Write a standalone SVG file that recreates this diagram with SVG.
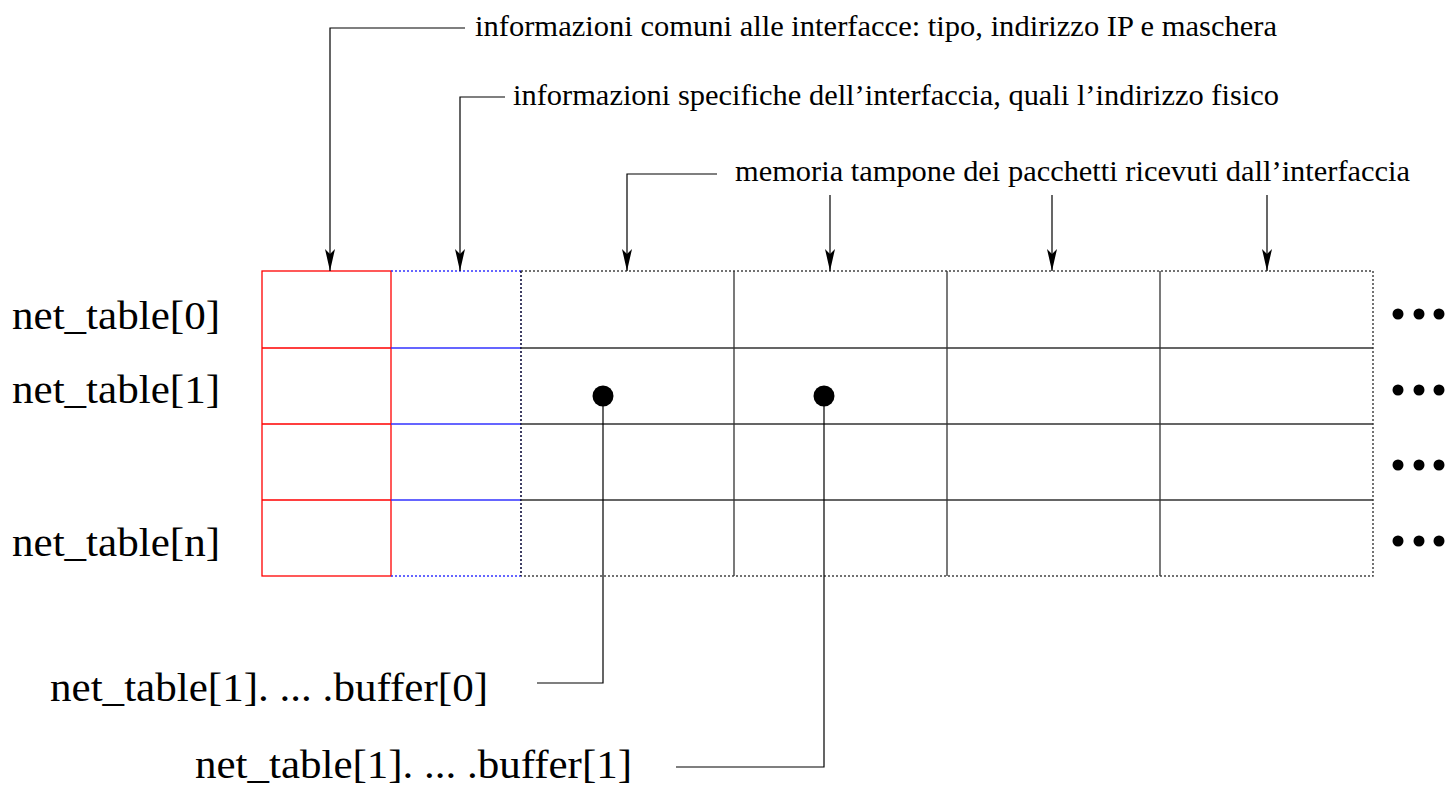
<svg xmlns="http://www.w3.org/2000/svg" width="1448" height="787" viewBox="0 0 1448 787">
<style>
text{font-family:"Liberation Serif","Times New Roman",serif;fill:#000}
.ann{font-size:29px}
.lbl{font-size:40px}
.conn{fill:none;stroke:#000;stroke-width:1.2}
.red{stroke:#ff0000;stroke-width:1.3;fill:none}
.blue{stroke:#3333ff;stroke-width:1.3;fill:none}
.bdot{stroke:#3333ff;stroke-width:1.5;stroke-dasharray:2,2;fill:none}
.ndot{stroke:#000033;stroke-width:1.5;stroke-dasharray:2,2;fill:none}
.gdot{stroke:#444;stroke-width:1.5;stroke-dasharray:2,2;fill:none}
.gline{stroke:#333;stroke-width:1.3;fill:none}
</style>
<defs>
<marker id="arr" markerUnits="userSpaceOnUse" markerWidth="24" markerHeight="14" viewBox="-22 -7 24 14" refX="0" refY="0" orient="auto">
<path d="M-22,-5 L0,0 L-22,5 L-17,0 z" fill="#000"/>
</marker>
</defs>
<g id="grid">
<g id="col-common">
<rect class="red" x="262" y="271" width="129" height="305"/>
<path class="red" d="M262,348H391M262,424H391M262,500H391"/>
</g>
<g id="col-specific">
<path class="bdot" d="M391,271H521M391,576H521"/>
<path class="blue" d="M391,348H521M391,424H521M391,500H521"/>
<path class="ndot" d="M521,271V576"/>
</g>
<g id="col-buffer">
<path class="gdot" d="M521,271H1373V576H521"/>
<path class="gline" d="M734,271V576M947,271V576M1160,271V576"/>
<path class="gline" d="M521,348H1373M521,424H1373M521,500H1373"/>
</g>
</g>
<g id="ellipsis" fill="#000">
<circle cx="1398" cy="314" r="5.5"/><circle cx="1419" cy="314" r="5.5"/><circle cx="1439" cy="314" r="5.5"/>
<circle cx="1398" cy="390" r="5.5"/><circle cx="1419" cy="390" r="5.5"/><circle cx="1439" cy="390" r="5.5"/>
<circle cx="1398" cy="465" r="5.5"/><circle cx="1419" cy="465" r="5.5"/><circle cx="1439" cy="465" r="5.5"/>
<circle cx="1398" cy="541" r="5.5"/><circle cx="1419" cy="541" r="5.5"/><circle cx="1439" cy="541" r="5.5"/>
</g>
<g id="row-labels">
<text class="lbl" x="12" y="329" textLength="208" lengthAdjust="spacingAndGlyphs">net_table[0]</text>
<text class="lbl" x="12" y="403" textLength="208" lengthAdjust="spacingAndGlyphs">net_table[1]</text>
<text class="lbl" x="12" y="556" textLength="208" lengthAdjust="spacingAndGlyphs">net_table[n]</text>
</g>
<g id="annotations">
<text class="ann" x="475" y="36" textLength="802" lengthAdjust="spacingAndGlyphs">informazioni comuni alle interfacce: tipo, indirizzo IP e maschera</text>
<text class="ann" x="513" y="105" textLength="766" lengthAdjust="spacingAndGlyphs">informazioni specifiche dell’interfaccia, quali l’indirizzo fisico</text>
<text class="ann" x="735" y="181" textLength="675" lengthAdjust="spacingAndGlyphs">memoria tampone dei pacchetti ricevuti dall’interfaccia</text>
</g>
<g id="buffer-labels">
<text class="lbl" x="50" y="701" textLength="438" lengthAdjust="spacingAndGlyphs">net_table[1]. ... .buffer[0]</text>
<text class="lbl" x="195" y="778" textLength="437" lengthAdjust="spacingAndGlyphs">net_table[1]. ... .buffer[1]</text>
</g>
<g id="connectors">
<path class="conn" marker-end="url(#arr)" d="M465,28H330V271"/>
<path class="conn" marker-end="url(#arr)" d="M505,97H460V271"/>
<path class="conn" marker-end="url(#arr)" d="M717,174H627V271"/>
<path class="conn" marker-end="url(#arr)" d="M830,195V271"/>
<path class="conn" marker-end="url(#arr)" d="M1052,195V271"/>
<path class="conn" marker-end="url(#arr)" d="M1267,195V271"/>
<path class="conn" d="M603,396V683H537"/>
<path class="conn" d="M824,396V767H676"/>
<circle cx="603" cy="396" r="10.5" fill="#000"/>
<circle cx="824" cy="396" r="10.5" fill="#000"/>
</g>
</svg>
